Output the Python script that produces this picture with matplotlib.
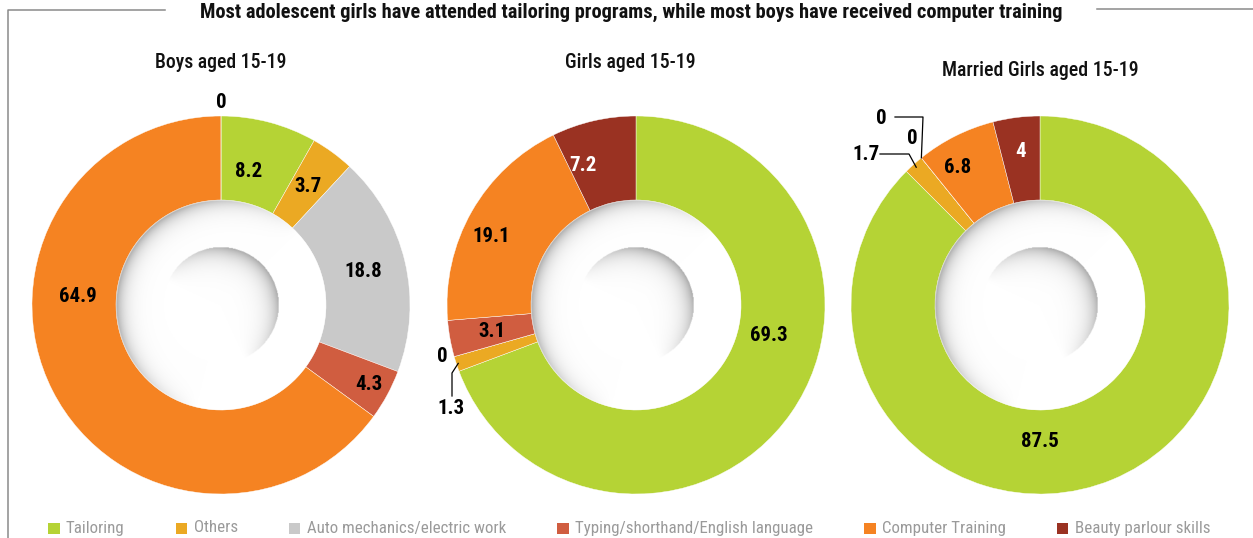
import os
import numpy as np
import matplotlib
matplotlib.use("Agg")
import matplotlib.pyplot as plt
from matplotlib import font_manager as fm

# Data
categories = ["Tailoring", "Others", "Auto mechanics/electric work",
              "Typing/shorthand/English language", "Computer Training",
              "Beauty parlour skills"]
colors = ["#b5d335", "#eba923", "#c9c9c9", "#d05d40", "#f58322", "#9a3222"]
titles = ["Boys aged 15-19", "Girls aged 15-19", "Married Girls aged 15-19"]
boys = [8.2, 3.7, 18.8, 4.3, 64.9, 0]
girls = [69.3, 1.3, 0, 3.1, 19.1, 7.2]
married = [87.5, 1.7, 0, 0, 6.8, 4]
series = [boys, girls, married]
headline = ("Most adolescent girls have attended tailoring programs, "
            "while most boys have received computer training")

W, H = 1253, 538


# look for a condensed / narrow face, otherwise Roboto
def find_face(kind):
    pref = ["robotocondensed", "liberationsansnarrow", "opensanscondensed",
            "notosans-condensed", "notosanscondensed", "dejavusanscondensed"]
    weights = ["bold", "medium", "light", "thin", "black", "semi", "extra"]
    found = []
    for f in fm.fontManager.ttflist:
        fn = os.path.basename(f.fname).lower()
        if not ("condensed" in fn or "narrow" in fn):
            continue
        if "italic" in fn or "oblique" in fn:
            continue
        stem = fn.replace("condensed", "")
        has = [w for w in weights if w in stem]
        if kind == "regular" and has:
            continue
        if kind != "regular" and has != [kind]:
            continue
        rank = len(pref)
        for j, p in enumerate(pref):
            if fn.replace("_", "").startswith(p):
                rank = j
                break
        found.append((rank, f.fname))
    if found:
        return sorted(found)[0][1]
    return None


faces = {k: find_face(k) for k in ["regular", "medium", "bold"]}
if faces["medium"] is None:
    faces["medium"] = faces["regular"]


def fprop(kind, size):
    path = faces[kind]
    if path:
        return fm.FontProperties(fname=path, size=size)
    return fm.FontProperties(family=["Roboto", "DejaVu Sans"], size=size,
                             weight="bold" if kind == "bold" else "normal")


fig = plt.figure(figsize=(W / 100, H / 100), dpi=100)
ax = fig.add_axes([0, 0, 1, 1])
renderer = fig.canvas.get_renderer()


def Y(y):
    return H - y


def width(t):
    return t.get_window_extent(renderer).width


def fit(t, target_px):
    t.set_fontsize(t.get_fontsize() * target_px / width(t))


# layout (pixel coords, y from top)
centers = [(221, 305), (636, 305), (1040, 305)]
title_pos = [(221, 62), (630, 62), (1040, 71)]
title_w = [132, 131, 198]
R, RIN, RCORE = 189, 105, 58

# label overrides: index -> (angle in degrees or None, radius fraction)
label_spec = [
    {0: (78.5, 0.72), 3: (None, 0.89), 4: (176.8, 0.76), 5: (90, 1.07)},
    {0: (-12.8, 0.72), 4: (154.7, 0.85), 5: (111, 0.79)},
    {0: (-90, 0.72), 4: (121, 0.85), 5: (None, 0.82)},
]
# labels drawn outside with leader lines: chart, index, text pos, elbow points
outside = [
    (1, 2, (442, 357), []),
    (1, 1, (451, 409), [(452, 396), (452, 373)]),
    (2, 3, (881, 118), [(895, 117), (923, 117)]),
    (2, 2, (912, 138), []),
    (2, 1, (866, 155), [(880, 154), (909, 154)]),
]
leader_target = {(1, 1): (1, 0.99), (2, 3): (3, 1.0), (2, 1): (1, 0.98)}


def mid_angle(vals, i):
    cum = sum(vals[:i]) + vals[i] / 2
    return 90 - cum / sum(vals) * 360


def edge_angle(vals, i):
    return 90 - sum(vals[:i]) / sum(vals) * 360


def shading(cx, cy):
    n = 320
    xs = np.linspace(-RIN - 1, RIN + 1, n)
    dx, dy = np.meshgrid(xs, xs)  # dy positive downward
    r = np.hypot(dx, dy)
    phi = np.degrees(np.arctan2(-dy, dx))
    w1 = np.clip(0.25 + 0.9 * np.cos(np.radians(phi - 150)), 0, 1)
    s1 = np.exp(-np.clip(RIN - r, 0, None) / 8.0) * w1
    w2 = np.clip(0.3 + 0.85 * np.cos(np.radians(phi - 45)), 0, 1)
    s2 = np.exp(-np.clip(RCORE - r, 0, None) / 10.0) * w2
    shade = np.where(r > RCORE, s1, s2)
    g = 1 - 0.33 * shade
    img = np.zeros((n, n, 4))
    img[..., 0] = g
    img[..., 1] = g
    img[..., 2] = g
    img[..., 3] = np.clip(RIN + 0.5 - r, 0, 1)
    ax.imshow(img, extent=(cx - RIN - 1, cx + RIN + 1, Y(cy) - RIN - 1, Y(cy) + RIN + 1),
              origin="upper", interpolation="bilinear", zorder=3)


LABEL_SIZE = 15

for k, vals in enumerate(series):
    cx, cy = centers[k]
    ax.pie(vals, colors=colors, startangle=90, counterclock=False,
           center=(cx, Y(cy)), radius=R,
           wedgeprops=dict(width=R - RIN, edgecolor="white", linewidth=0.3))
    shading(cx, cy)
    st = ax.text(title_pos[k][0], Y(title_pos[k][1]), titles[k], ha="center",
                 va="center", fontproperties=fprop("medium", 14), color="#111111")
    fit(st, title_w[k])

    out_idx = [o[1] for o in outside if o[0] == k]
    for i, v in enumerate(vals):
        if i in out_idx:
            continue
        if v == 0 and i not in label_spec[k]:
            continue
        ang, rf = label_spec[k].get(i, (None, 0.775))
        if ang is None:
            ang = mid_angle(vals, i)
        x = cx + R * rf * np.cos(np.radians(ang))
        y = Y(cy) + R * rf * np.sin(np.radians(ang))
        col = "white" if i == 5 and v > 0 else "black"
        ax.text(x, y, f"{v:g}", ha="center", va="center",
                fontproperties=fprop("bold", LABEL_SIZE), color=col, zorder=5)

for k, i, (tx, ty), elbow in outside:
    vals = series[k]
    ax.text(tx, Y(ty), f"{vals[i]:g}", ha="center", va="center",
            fontproperties=fprop("bold", LABEL_SIZE), color="black", zorder=5)
    if (k, i) in leader_target:
        cx, cy = centers[k]
        j, rf = leader_target[(k, i)]
        ang = mid_angle(vals, j) if j == i and vals[i] > 0 else edge_angle(vals, j)
        ex = cx + R * rf * np.cos(np.radians(ang))
        ey = Y(cy) + R * rf * np.sin(np.radians(ang))
        px = [p[0] for p in elbow] + [ex]
        py = [Y(p[1]) for p in elbow] + [ey]
        ax.plot(px, py, color="black", lw=0.9, zorder=5)

# frame lines and header
line_col = "#8a8a8a"
ax.plot([8, 8, 165], [0, Y(10), Y(10)], color=line_col, lw=1.1)
ax.plot([1097, W], [Y(9), Y(9)], color=line_col, lw=1.1)
ht = ax.text(631, Y(12), headline, ha="center", va="center",
             fontproperties=fprop("bold", 15), color="#111111")
fit(ht, 859)

# legend, drawn by hand: square, gap, label, then a fixed gap to the next item
leg_y = Y(528)
probe = ax.text(0, 0, categories[2], fontproperties=fprop("regular", 12))
fit(probe, 198)
leg_size = probe.get_fontsize()
probe.remove()
lx = 48
for c, name in zip(colors, categories):
    ax.add_patch(plt.Rectangle((lx, leg_y - 6), 11.5, 11.5, facecolor=c,
                               edgecolor="none"))
    t = ax.text(lx + 18, leg_y, name, ha="left", va="center",
                fontproperties=fprop("regular", leg_size), color="#9a9a9a")
    lx = lx + 18 + width(t) + 51

ax.set_xlim(0, W)
ax.set_ylim(0, H)
ax.set_aspect("equal")
ax.axis("off")

fig.savefig("out.png", dpi=100)
